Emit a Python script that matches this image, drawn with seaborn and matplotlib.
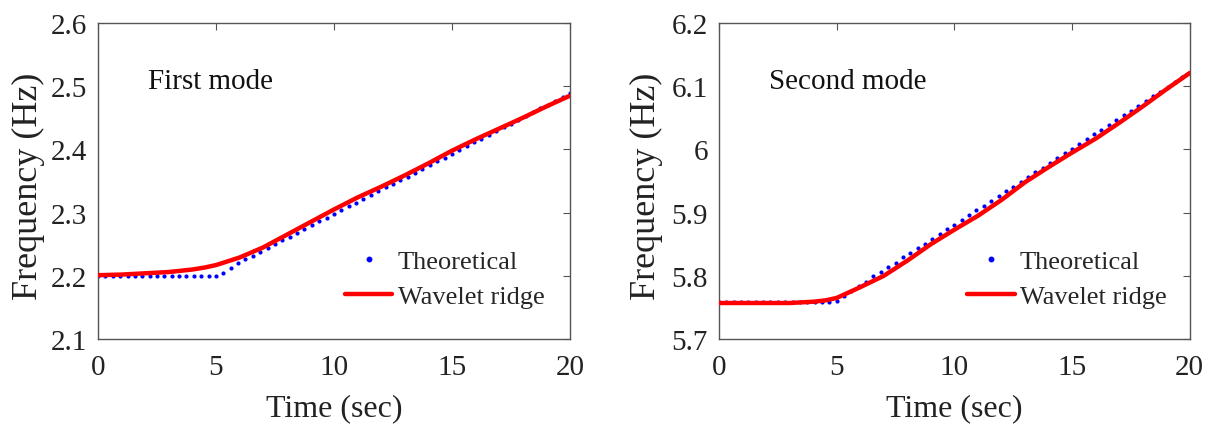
import matplotlib
matplotlib.use("Agg")
import matplotlib.pyplot as plt
import numpy as np
import pandas as pd
import seaborn as sns

# theoretical samples (dots), one every 0.3125 s
theory_time = np.arange(65) * 0.3125
theory_mode1 = [2.200] * 17 + [
    2.205, 2.213, 2.220, 2.226, 2.232, 2.238, 2.244, 2.250, 2.256, 2.262,
    2.268, 2.274, 2.280, 2.286, 2.292, 2.298, 2.304, 2.310, 2.316, 2.322,
    2.328, 2.334, 2.340, 2.346, 2.352, 2.357, 2.363, 2.369, 2.375, 2.381,
    2.387, 2.393, 2.399, 2.405, 2.411, 2.417, 2.423, 2.429, 2.435, 2.441,
    2.447, 2.453, 2.459, 2.465, 2.471, 2.477, 2.483, 2.489]
theory_mode2 = [5.758] * 16 + [
    5.760, 5.768, 5.776, 5.784, 5.791, 5.799, 5.806, 5.814, 5.821, 5.829,
    5.836, 5.844, 5.851, 5.859, 5.866, 5.874, 5.881, 5.889, 5.896, 5.904,
    5.911, 5.919, 5.926, 5.934, 5.941, 5.949, 5.956, 5.964, 5.971, 5.979,
    5.986, 5.994, 6.001, 6.009, 6.016, 6.024, 6.031, 6.039, 6.046, 6.054,
    6.061, 6.069, 6.076, 6.084, 6.091, 6.099, 6.106, 6.114, 6.121]

# wavelet ridge (red line)
ridge_time = [0, 1, 2, 3, 4, 4.5, 5, 6, 7, 8, 9, 10, 11, 12, 13, 14, 15, 16, 17, 18, 19, 20]
ridge_mode1 = [2.201, 2.202, 2.204, 2.206, 2.210, 2.213, 2.217, 2.229, 2.245, 2.265, 2.285,
               2.305, 2.324, 2.341, 2.359, 2.378, 2.398, 2.416, 2.433, 2.450, 2.468, 2.485]
ridge_mode2 = [5.757, 5.757, 5.757, 5.757, 5.759, 5.761, 5.765, 5.782, 5.800, 5.824, 5.850,
               5.873, 5.895, 5.920, 5.948, 5.972, 5.995, 6.017, 6.042, 6.068, 6.095, 6.121]

panels = [
    ("First mode", theory_mode1, ridge_mode1, (2.1, 2.6), [2.1, 2.2, 2.3, 2.4, 2.5, 2.6],
     ["2.1", "2.2", "2.3", "2.4", "2.5", "2.6"], -0.112, 0.523),
    ("Second mode", theory_mode2, ridge_mode2, (5.7, 6.2), [5.7, 5.8, 5.9, 6.0, 6.1, 6.2],
     ["5.7", "5.8", "5.9", "6", "6.1", "6.2"], -0.119, 0.527),
]

sns.set_style("white")
plt.rcParams["font.family"] = ["Liberation Serif", "DejaVu Serif"]

fig = plt.figure(figsize=(12.07, 4.27), dpi=100)
axes = [fig.add_axes([0.0812, 0.2037, 0.391, 0.740]),
        fig.add_axes([0.5957, 0.2037, 0.390, 0.740])]

for ax, (title, theory, ridge, ylim, yticks, ylabels, ylab_x, leg_x) in zip(axes, panels):
    theory_df = pd.DataFrame({"t": theory_time, "f": theory})
    ridge_df = pd.DataFrame({"t": ridge_time, "f": ridge})
    sns.scatterplot(data=theory_df, x="t", y="f", ax=ax, color="#0000ff", s=9,
                    linewidth=0, zorder=2)
    sns.lineplot(data=ridge_df, x="t", y="f", ax=ax, color="#ff0000", linewidth=3.2,
                 zorder=3)
    ax.set_xlim(0, 20)
    ax.set_ylim(*ylim)
    ax.set_xticks([0, 5, 10, 15, 20])
    ax.set_xticklabels(["0", "5", "10", "15", "20"])
    ax.set_yticks(yticks)
    ax.set_yticklabels(ylabels)
    ax.tick_params(direction="in", length=5, width=0.8, color="#555555",
                   labelsize=21, top=True, right=True, labelcolor="#222222")
    ax.tick_params(axis="x", pad=11)
    ax.tick_params(axis="y", pad=8)
    for sp in ax.spines.values():
        sp.set_color("#555555")
        sp.set_linewidth(1.0)
    ax.set_xlabel("Time (sec)", fontsize=23, color="#222222", labelpad=9)
    ax.set_ylabel("Frequency (Hz)", fontsize=26, color="#222222")
    ax.yaxis.set_label_coords(ylab_x, 0.487)
    ax.text(0.106, 0.815, title, transform=ax.transAxes, fontsize=21,
            va="center", ha="left", color="#111111")
    dot_h = plt.Line2D([], [], color="#0000ff", marker="o", markersize=3.2, linestyle="")
    line_h = plt.Line2D([], [], color="#ff0000", linewidth=3.2)
    ax.legend([dot_h, line_h], ["Theoretical", "Wavelet ridge"], frameon=False,
              loc="upper left", bbox_to_anchor=(leg_x, 0.282), borderpad=0,
              borderaxespad=0, fontsize=19, handlelength=1.8, handletextpad=0.2,
              labelspacing=0.44)

fig.savefig("out.png", dpi=100)
